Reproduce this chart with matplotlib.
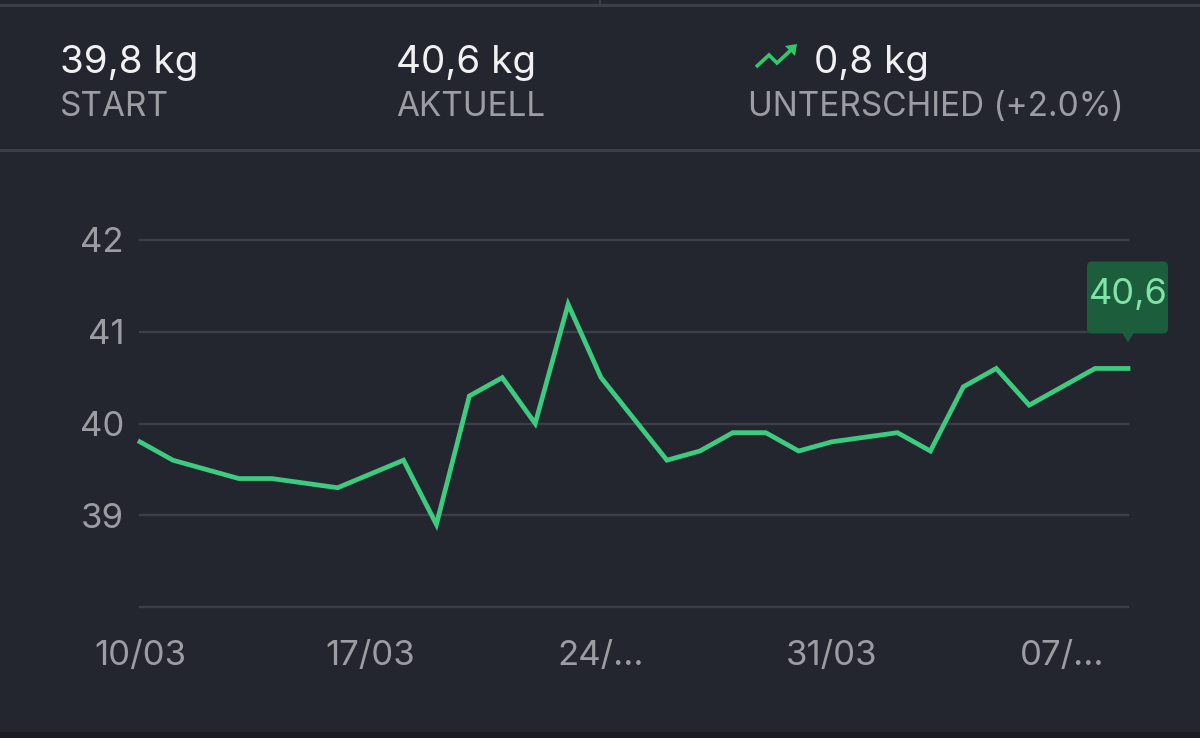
import numpy as np
import matplotlib
matplotlib.use("Agg")
import matplotlib.pyplot as plt
from matplotlib.patches import FancyBboxPatch, Polygon, Rectangle
from matplotlib.lines import Line2D

plt.rcParams['font.family'] = ['Inter', 'DejaVu Sans']

# days after 10/03 and the weight on that day
days = [0, 1, 3, 4, 6, 8, 9, 10, 11, 12, 13, 14, 16, 17, 18, 19, 20, 21,
        23, 24, 25, 26, 27, 29, 30]
weights = [39.8, 39.6, 39.4, 39.4, 39.3, 39.6, 38.9, 40.3, 40.5, 40.0, 41.3,
           40.5, 39.6, 39.7, 39.9, 39.9, 39.7, 39.8, 39.9, 39.7, 40.4, 40.6,
           40.2, 40.6, 40.6]

x_ticks = [0, 7, 14, 21, 28]
x_labels = ["10/03", "17/03", "24/...", "31/03", "07/..."]
y_ticks = [39, 40, 41, 42]
grid_levels = [38, 39, 40, 41, 42]

start_txt = "39,8 kg"
current_txt = "40,6 kg"
diff_txt = "0,8 kg"
diff_label = "UNTERSCHIED (+2.0%)"
last_label = "40,6"

bg = "#24262f"
grid_c = "#3c3e48"
line_c = "#3ccb7f"
tick_c = "#9c9da3"
white = "#f1f1f3"

W, H = 1200, 738
fig = plt.figure(figsize=(W / 100, H / 100), dpi=100)
fig.patch.set_facecolor(bg)

# header separators
fig.add_artist(Rectangle((0, 1 - 6.5 / H), 1, 2.5 / H, transform=fig.transFigure,
                         color=grid_c, lw=0))
fig.add_artist(Rectangle((599 / W, 1 - 4 / H), 2 / W, 4 / H, transform=fig.transFigure,
                         color=grid_c, lw=0))
fig.add_artist(Rectangle((0, 1 - 151.5 / H), 1, 2.5 / H, transform=fig.transFigure,
                         color=grid_c, lw=0))
fig.add_artist(Rectangle((0, 0), 1, 6 / H, transform=fig.transFigure,
                         color="#1b1c22", lw=0))

# header texts
fig.text(60 / W, 1 - 73 / H, start_txt, color=white, fontsize=27.8, va='baseline')
fig.text(60 / W, 1 - 116 / H, "START", color=tick_c, fontsize=24, va='baseline')
fig.text(396 / W, 1 - 73 / H, current_txt, color=white, fontsize=27.8, va='baseline')
fig.text(396 / W, 1 - 116 / H, "AKTUELL", color=tick_c, fontsize=24, va='baseline')
fig.text(814 / W, 1 - 73 / H, diff_txt, color=white, fontsize=27.8, va='baseline')
fig.text(748 / W, 1 - 116 / H, diff_label, color=tick_c, fontsize=24, va='baseline')

# trending up icon
icon_x = np.array([756, 769, 777, 791]) / W
icon_y = 1 - np.array([67, 55, 63, 50]) / H
fig.add_artist(Line2D(icon_x, icon_y, transform=fig.transFigure, color="#2fc96a",
                      lw=2.6, solid_joinstyle='miter', solid_capstyle='butt'))
fig.add_artist(Polygon([(785 / W, 1 - 46 / H), (797 / W, 1 - 44 / H), (795 / W, 1 - 56 / H)],
                       closed=True, transform=fig.transFigure, color="#2fc96a", lw=0))

# chart
ax = fig.add_axes([140 / W, 1 - 607 / H, 988 / W, 367 / H])
ax.set_facecolor(bg)
ax.set_xlim(0, 30)
ax.set_ylim(38, 42)
for g in grid_levels:
    ax.axhline(g, color=grid_c, lw=1.7, zorder=1, clip_on=False)
ax.plot(days, weights, color=line_c, lw=3.4, zorder=3, clip_on=False,
        solid_joinstyle='miter')

for s in ax.spines.values():
    s.set_visible(False)
ax.set_yticks(y_ticks)
ax.set_yticklabels([str(v) for v in y_ticks])
ax.set_xticks(x_ticks)
ax.set_xticklabels(x_labels)
ax.tick_params(axis='y', length=0, pad=11.5, labelsize=25, labelcolor=tick_c)
ax.tick_params(axis='x', length=0, pad=24, labelsize=25, labelcolor=tick_c)

# tooltip on the last point
fig.canvas.draw()
px, py = ax.transData.transform((days[-1], weights[-1]))
box = FancyBboxPatch((px - 41, py + 35), 81, 72,
                     boxstyle="round,pad=0,rounding_size=5",
                     transform=None, facecolor="#1c5d3c", edgecolor="none", zorder=5)
fig.add_artist(box)
fig.add_artist(Polygon([(px - 6, py + 36), (px + 6, py + 36), (px, py + 26)],
                       closed=True, transform=None, facecolor="#1c5d3c",
                       edgecolor="none", zorder=5))
fig.text(px / W, (py + 74) / H, last_label, color="#80e3aa", fontsize=26,
         ha='center', va='center', zorder=6)

fig.savefig("out.png", dpi=100, facecolor=bg)
